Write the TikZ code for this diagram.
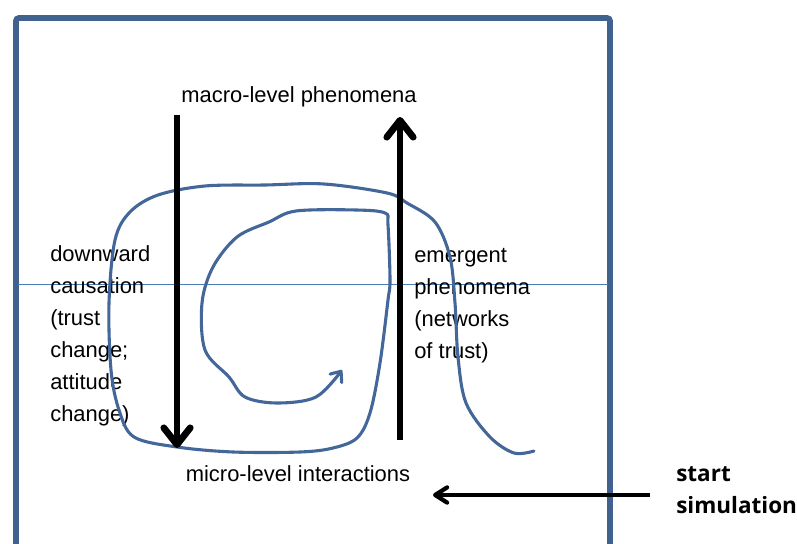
\documentclass[tikz,border=0pt]{standalone}
\usepackage{fontspec}
\setmainfont{Liberation Sans}
\newfontfamily\simfont{Open Sans}
\usetikzlibrary{arrows.meta}
\definecolor{cframe}{HTML}{41628F}
\definecolor{cspiral}{HTML}{44679A}
\definecolor{cline}{HTML}{4A7DB8}
\tikzset{
  every picture/.style={x=0.025cm, y=-0.025cm},
  frame/.style={draw=cframe, line width=4pt, rounded corners=2pt},
  divider/.style={draw=cline, line width=0.7pt},
  bigarrow/.style={-{Straight Barb[length=4.2mm, width=6.6mm, round]}, line width=4.8pt},
  simarrow/.style={-{Straight Barb[length=3mm, width=3.8mm, round]}, line width=3pt},
  spiral/.style={draw=cspiral, line width=2.2pt, line cap=round, -{Straight Barb[length=2.2mm, width=3.6mm, round]}},
  lbl/.style={font=\fontsize{15.6}{22.8}\selectfont, inner sep=0pt, align=left},
  startlbl/.style={font=\simfont\bfseries\fontsize{16}{22.8}\selectfont, inner sep=0pt, align=left},
}

\begin{document}
\begin{tikzpicture}
  \useasboundingbox (0,0) rectangle (797,544);
  % frame and level line
  \draw[frame] (16,560) |- (610,18) -- (610,560);
  \draw[divider] (18,284) -- (608,284);

  % labels
  \node[lbl, anchor=base] (macro) at (299,103) {macro-level phenomena};
  \node[lbl, anchor=base] (micro) at (298,482) {micro-level interactions};
  \node[lbl, anchor=north west] (down) at (50,245) {downward\\causation\\(trust\\change;\\attitude\\change)};
  \node[lbl, anchor=north west] (emerg) at (414,248) {emergent\\phenomena\\(networks\\of trust)};
  \node[startlbl, anchor=north west] (start) at (676,466) {start\\simulation};

  % spiral of the simulation
  \draw[spiral] plot[smooth, tension=0.55] coordinates {
    (534,451) (514,453) (490,437) (466,403) (458,357) (455,303) (450,257)
    (435,222) (407,203) (387,193) (324,184) (265,185) (205,186) (158,195)
    (130,212) (115,240) (109,303) (111,370) (119,410) (134,437) (177,447)
    (233,452) (300,452) (333,448) (357,438) (370,413) (380,363) (388,300)
    (390,280) (388,225) (385,213) (356,210) (296,211) (269,222) (237,237)
    (213,267) (202,303) (205,350) (229,377) (245,397) (277,403) (316,397)
    (342,370)};

  % arrows
  \coordinate (dtop) at (177,115);
  \coordinate (dbot) at (177,448);
  \coordinate (ubot) at (400,440);
  \coordinate (utop) at (400,117);
  \coordinate (sfrom) at (650,495);
  \coordinate (sto) at (433,495);
  \draw[bigarrow] (dtop) -- (dbot);
  \draw[bigarrow] (ubot) -- (utop);
  \draw[simarrow] (sfrom) -- (sto);
\end{tikzpicture}
\end{document}
